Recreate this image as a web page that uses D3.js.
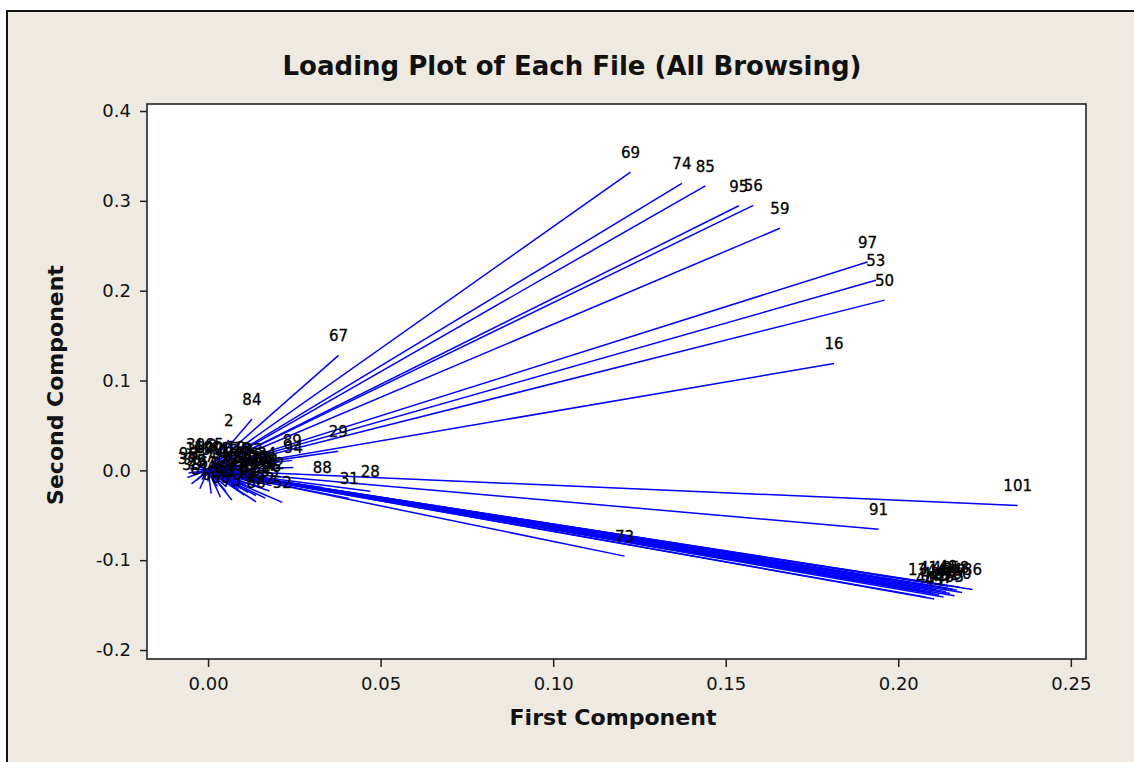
<!DOCTYPE html>
<html>
<head>
<meta charset="utf-8">
<script src="https://cdn.jsdelivr.net/npm/d3@7"></script>
<style>
  html, body { margin: 0; padding: 0; background: #ffffff; }
  svg { display: block; }
</style>
</head>
<body>
<svg id="chart" width="1134" height="762"></svg>
<script>
// Loading of each file on the first two principal components
const fileIds = [
  69, 74, 85, 95, 56, 59, 97, 53, 50, 16, 67, 84, 2,
  29, 89, 94, 82, 52, 88, 31, 28,
  101, 91, 73,
  13, 40, 41, 42, 43, 44, 45, 46, 47, 48, 49, 51, 54, 55, 57, 58, 60, 36,
  1, 3, 4, 5, 6, 7, 8, 9, 10, 11, 12, 14, 15, 17, 18, 19, 20, 21, 22, 23,
  24, 25, 26, 27, 30, 32, 33, 34, 35, 37, 38, 39, 61, 62, 63, 64, 65, 66,
  68, 70, 71, 72, 75, 76, 77, 78, 79, 80, 81, 83, 86, 87, 90, 92, 93, 96,
  98, 99, 100
];

const firstComponent = [
  0.1224, 0.1373, 0.1441, 0.1538, 0.1580, 0.1657, 0.1911, 0.1935, 0.1960, 0.1814, 0.0378, 0.0127, 0.0060,
  0.0377, 0.0244, 0.0247, 0.0194, 0.0215, 0.0331, 0.0409, 0.0470,
  0.2346, 0.1943, 0.1207,
  0.2056, 0.2079, 0.2088, 0.2095, 0.2104, 0.2110, 0.2118, 0.2125, 0.2131, 0.2138, 0.2144, 0.2150, 0.2157, 0.2163, 0.2170, 0.2178, 0.2185, 0.2215,
  -0.0052, -0.0041, -0.0030, -0.0018, -0.0007, 0.0004, 0.0012, 0.0021, 0.0030, 0.0038, 0.0046, 0.0053, 0.0060, 0.0067, 0.0074, 0.0081, 0.0088, 0.0095, 0.0102, 0.0109,
  0.0116, 0.0124, 0.0131, 0.0139, 0.0146, 0.0154, 0.0162, 0.0170, 0.0178, -0.0060, -0.0048, -0.0036, -0.0024, -0.0012, 0.0000, 0.0009, 0.0018, 0.0027,
  0.0036, 0.0044, 0.0052, 0.0061, 0.0069, 0.0078, 0.0087, 0.0096, 0.0105, 0.0113, 0.0122, 0.0130, 0.0139, 0.0148, 0.0157, 0.0166, 0.0175, 0.0184,
  -0.0057, -0.0033, 0.0001
];

const secondComponent = [
  0.3320, 0.3194, 0.3167, 0.2945, 0.2950, 0.2695, 0.2320, 0.2115, 0.1895, 0.1190, 0.1280, 0.0570, 0.0340,
  0.0212, 0.0111, 0.0033, -0.0145, -0.0356, -0.0190, -0.0312, -0.0234,
  -0.0390, -0.0657, -0.0955,
  -0.1326, -0.1410, -0.1298, -0.1365, -0.1432, -0.1330, -0.1385, -0.1300, -0.1410, -0.1350, -0.1290, -0.1372, -0.1320, -0.1395, -0.1335, -0.1300, -0.1360, -0.1326,
  0.0021, -0.0035, 0.0048, -0.0102, 0.0012, -0.0068, 0.0055, -0.0140, -0.0021, 0.0030, -0.0095, -0.0185, 0.0008, -0.0050, -0.0122, 0.0041, -0.0210, -0.0075, -0.0015, -0.0160,
  -0.0245, -0.0040, -0.0110, -0.0280, -0.0060, -0.0190, -0.0130, -0.0025, -0.0230, -0.0080, -0.0150, 0.0075, -0.0205, 0.0033, -0.0125, -0.0260, 0.0068, -0.0180,
  -0.0300, 0.0016, -0.0235, -0.0085, -0.0330, -0.0030, -0.0150, 0.0022, -0.0275, -0.0090, -0.0190, 0.0010, -0.0350, -0.0150, -0.0070, -0.0310, -0.0100, -0.0170,
  -0.0030, -0.0110, 0.0040
];

const xTicks = [0.00, 0.05, 0.10, 0.15, 0.20, 0.25];
const yTicks = [-0.2, -0.1, 0.0, 0.1, 0.2, 0.3, 0.4];

const titleText = "Loading Plot of Each File (All Browsing)";
const xTitleText = "First Component";
const yTitleText = "Second Component";

const svg = d3.select("#chart");
const W = 1134, H = 762;
const plot = { left: 147, top: 104, right: 1086, bottom: 659 };
const FONT = "'DejaVu Sans', Verdana, sans-serif";

const x = d3.scaleLinear().domain([-0.0177, 0.2544]).range([plot.left, plot.right]);
const y = d3.scaleLinear().domain([-0.2100, 0.4078]).range([plot.bottom, plot.top]);

// Window background with its dark top/left edge
svg.append("rect").attr("x", 6).attr("y", 10).attr("width", W - 6).attr("height", H - 10)
  .attr("fill", "#eeeae1");
svg.append("path").attr("d", `M7,${H} V11 H${W}`)
  .attr("fill", "none").attr("stroke", "#111").attr("stroke-width", 2);

// Plot area
svg.append("rect")
  .attr("x", plot.left).attr("y", plot.top)
  .attr("width", plot.right - plot.left).attr("height", plot.bottom - plot.top)
  .attr("fill", "#ffffff");

// Loading vectors from the origin
const idx = d3.range(fileIds.length);
const g = svg.append("g");
g.selectAll("line.loading").data(idx).join("line")
  .attr("class", "loading")
  .attr("x1", x(0)).attr("y1", y(0))
  .attr("x2", i => x(firstComponent[i]))
  .attr("y2", i => y(secondComponent[i]))
  .attr("stroke", "#0000ff")
  .attr("stroke-width", 1.5);

// File labels at the tip of each vector
g.selectAll("text.label").data(idx).join("text")
  .attr("class", "label")
  .attr("x", i => x(firstComponent[i]))
  .attr("y", i => y(secondComponent[i]) - 14)
  .attr("text-anchor", "middle")
  .attr("font-family", FONT)
  .attr("font-size", 15)
  .attr("fill", "#000")
  .attr("stroke", "#000")
  .attr("stroke-width", 0.3)
  .text(i => String(fileIds[i]));

// Frame
svg.append("rect")
  .attr("x", plot.left).attr("y", plot.top)
  .attr("width", plot.right - plot.left).attr("height", plot.bottom - plot.top)
  .attr("fill", "none").attr("stroke", "#222").attr("stroke-width", 1.6);

// Axes
const xAxis = svg.append("g").attr("transform", `translate(0,${plot.bottom})`)
  .call(d3.axisBottom(x).tickValues(xTicks).tickFormat(d => d.toFixed(2))
    .tickSize(8).tickPadding(10));
const yAxis = svg.append("g").attr("transform", `translate(${plot.left},0)`)
  .call(d3.axisLeft(y).tickValues(yTicks).tickFormat(d => d.toFixed(1))
    .tickSize(7).tickPadding(9));
[xAxis, yAxis].forEach(a => {
  a.select(".domain").remove();
  a.selectAll(".tick line").attr("stroke", "#222").attr("stroke-width", 1.5);
  a.selectAll(".tick text").attr("fill", "#111")
    .attr("font-family", FONT).attr("font-size", 18);
});

// Titles, sized to their measured extents
function fit(sel, width) {
  const w = sel.node().getComputedTextLength();
  const fs = parseFloat(sel.attr("font-size"));
  sel.attr("font-size", fs * width / w);
}

const title = svg.append("text")
  .attr("x", 572).attr("y", 75)
  .attr("text-anchor", "middle")
  .attr("font-family", FONT).attr("font-weight", "bold")
  .attr("font-size", 24).attr("fill", "#111")
  .text(titleText);
fit(title, 579);

const xt = svg.append("text")
  .attr("x", 613).attr("y", 725)
  .attr("text-anchor", "middle")
  .attr("font-family", FONT).attr("font-weight", "bold")
  .attr("font-size", 20).attr("fill", "#111")
  .text(xTitleText);
fit(xt, 207);

const yt = svg.append("text")
  .attr("transform", "translate(63,385) rotate(-90)")
  .attr("text-anchor", "middle")
  .attr("font-family", FONT).attr("font-weight", "bold")
  .attr("font-size", 20).attr("fill", "#111")
  .text(yTitleText);
fit(yt, 240);
</script>
</body>
</html>
